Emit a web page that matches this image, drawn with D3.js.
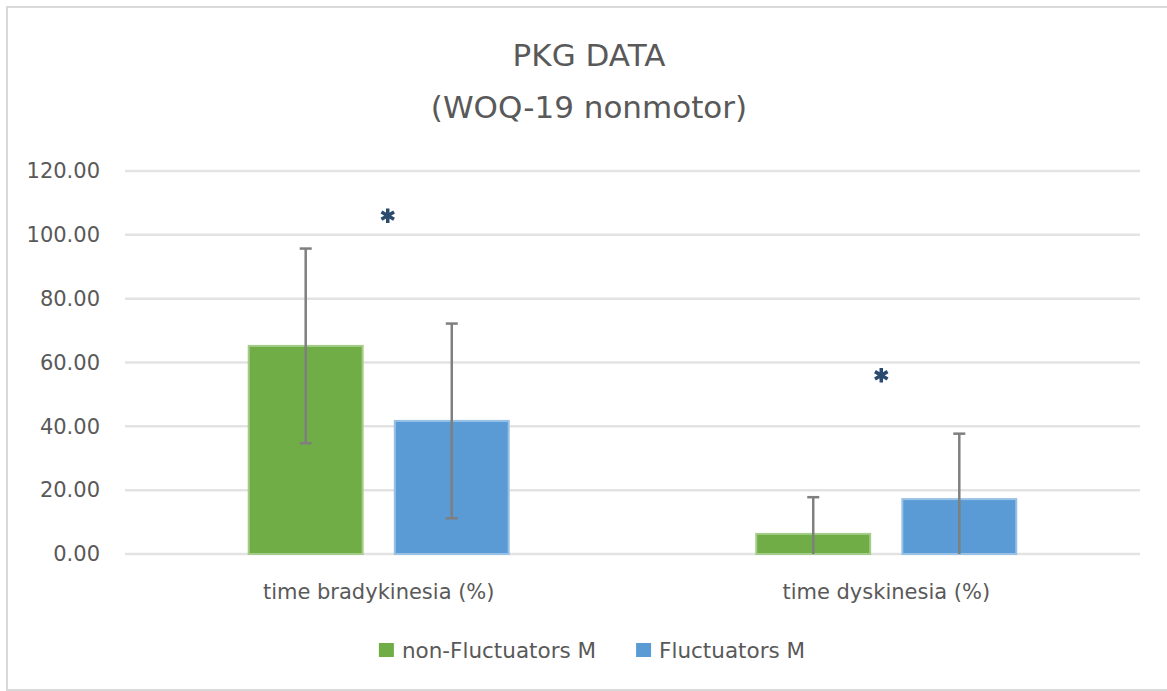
<!DOCTYPE html>
<html>
<head>
    <meta charset="utf-8">
    <title>PKG DATA</title>
    <script type="text/javascript" src="https://cdn.jsdelivr.net/npm/d3@7"></script>
    <style type="text/css">
        body {
            margin: 0;
            background: #fff;
        }

        text {
            font-family: "DejaVu Sans", sans-serif;
            fill: #595959;
        }

        .grid line {
            stroke: #e3e3e3;
            stroke-width: 2.5;
        }

        .err {
            stroke: #7f7f7f;
            stroke-width: 2.5;
        }
    </style>
</head>

<body>

<script type="text/javascript">
    var categories = ["time bradykinesia (%)", "time dyskinesia (%)"];
    var seriesNames = ["non-Fluctuators M", "Fluctuators M"];
    var nonFluctuators = [65.2, 6.3];
    var fluctuators = [41.7, 17.2];
    var nonFluctuatorsSd = [30.5, 11.5];
    var fluctuatorsSd = [30.5, 20.5];
    var significance = [106, 56];   // asterisk heights
    var yTicks = [0, 20, 40, 60, 80, 100, 120];
    var titleLines = ["PKG DATA", "(WOQ-19 nonmotor)"];

    var w = 1167, h = 691;
    var colors = ["#70ad47", "#5b9bd5"],
        edges = ["#a3cd88", "#98c1e6"];

    var series = [
        {name: seriesNames[0], values: nonFluctuators, sd: nonFluctuatorsSd},
        {name: seriesNames[1], values: fluctuators, sd: fluctuatorsSd}
    ];

    var svg = d3.select("body")
            .append("svg")
                .attr("width", w)
                .attr("height", h);

    // chart area frame
    svg.append("rect")
        .attr("x", 7)
        .attr("y", 7)
        .attr("width", w + 20)
        .attr("height", 683)
        .attr("fill", "#fff")
        .attr("stroke", "#d9d9d9")
        .attr("stroke-width", 2);

    var x = d3.scaleBand()
            .domain(categories)
            .range([125, 1140])
            .paddingInner(0.4877)
            .paddingOuter(0.2438);

    var x1 = d3.scaleBand()
            .domain(seriesNames)
            .range([0, x.bandwidth()])
            .paddingInner(0.22);

    var y = d3.scaleLinear()
            .domain([0, 120])
            .range([554, 171]);

    // title
    svg.append("g")
        .selectAll("text")
        .data(titleLines)
        .enter().append("text")
            .attr("x", 589)
            .attr("y", function (d, i) {return 66 + i * 52;})
            .attr("text-anchor", "middle")
            .style("font-size", "31px")
            .text(function (d) {return d;});

    // gridlines
    svg.append("g")
            .attr("class", "grid")
        .selectAll("line")
        .data(yTicks)
        .enter().append("line")
            .attr("x1", 125)
            .attr("x2", 1140)
            .attr("y1", function (d) {return y(d);})
            .attr("y2", function (d) {return y(d);});

    // y axis labels
    svg.append("g")
            .attr("transform", "translate(100,0)")
            .call(d3.axisLeft(y).tickValues(yTicks).tickSize(0).tickPadding(0)
                .tickFormat(d3.format(".2f")))
            .call(function (g) {g.select(".domain").remove();})
            .call(function (g) {
                g.selectAll("text")
                    .attr("fill", null)
                    .style("font-size", "21px")
                    .style("font-family", null);
            });

    // bars
    var groups = svg.append("g")
        .selectAll("g")
        .data(series)
        .enter().append("g");

    groups.selectAll("rect")
        .data(function (s, si) {
            return s.values.map(function (v, i) {
                return {cat: categories[i], name: s.name, value: v, si: si};
            });
        })
        .enter().append("rect")
            .attr("x", function (d) {return x(d.cat) + x1(d.name);})
            .attr("y", function (d) {return y(d.value);})
            .attr("width", x1.bandwidth())
            .attr("height", function (d) {return y(0) - y(d.value);})
            .attr("fill", function (d) {return colors[d.si];})
            .attr("stroke", function (d) {return edges[d.si];})
            .attr("stroke-width", 2);

    // error bars (clipped at the axis minimum)
    var errs = svg.append("g")
        .selectAll("g")
        .data(d3.merge(series.map(function (s) {
            return s.values.map(function (v, i) {
                return {cat: categories[i], name: s.name,
                        hi: v + s.sd[i], lo: v - s.sd[i]};
            });
        })))
        .enter().append("g")
            .attr("class", "err")
            .attr("transform", function (d) {
                return "translate(" + (x(d.cat) + x1(d.name) + x1.bandwidth() / 2) + ",0)";
            });

    errs.append("line")
        .attr("y1", function (d) {return y(d.hi);})
        .attr("y2", function (d) {return y(Math.max(0, d.lo));});

    errs.append("line")
        .attr("x1", -6).attr("x2", 6)
        .attr("y1", function (d) {return y(d.hi);})
        .attr("y2", function (d) {return y(d.hi);});

    errs.filter(function (d) {return d.lo > 0;})
        .append("line")
        .attr("x1", -6).attr("x2", 6)
        .attr("y1", function (d) {return y(d.lo);})
        .attr("y2", function (d) {return y(d.lo);});

    // significance markers
    svg.append("g")
        .selectAll("path")
        .data(significance)
        .enter().append("path")
            .attr("d", d3.symbol(d3.symbolAsterisk, 150))
            .attr("transform", function (d, i) {
                return "translate(" + (x(categories[i]) + x.bandwidth() / 2 + (i ? -5 : 9)) + "," + y(d) + ")";
            })
            .attr("fill", "none")
            .attr("stroke", "#2a4a6e")
            .attr("stroke-width", 3.5);

    // category labels
    svg.append("g")
        .selectAll("text")
        .data(categories)
        .enter().append("text")
            .attr("x", function (d) {return x(d) + x.bandwidth() / 2;})
            .attr("y", 599)
            .attr("text-anchor", "middle")
            .style("font-size", "21px")
            .text(function (d) {return d;});

    // legend
    var legend = svg.append("g");
    var items = legend.selectAll("g")
        .data(series)
        .enter().append("g");

    items.append("rect")
        .attr("width", 15)
        .attr("height", 14)
        .attr("y", -7)
        .attr("fill", function (d, i) {return colors[i];});

    items.append("text")
        .attr("x", 23)
        .attr("dy", "0.36em")
        .style("font-size", "21.5px")
        .text(function (d) {return d.name;});

    var offs = 0;
    items.each(function () {
        var el = d3.select(this);
        el.attr("transform", "translate(" + offs + ",0)");
        offs += this.getBBox().width + 40;
    });
    offs -= 40;
    legend.attr("transform", "translate(" + (592 - offs / 2) + ",650)");
</script>

</body>

</html>
